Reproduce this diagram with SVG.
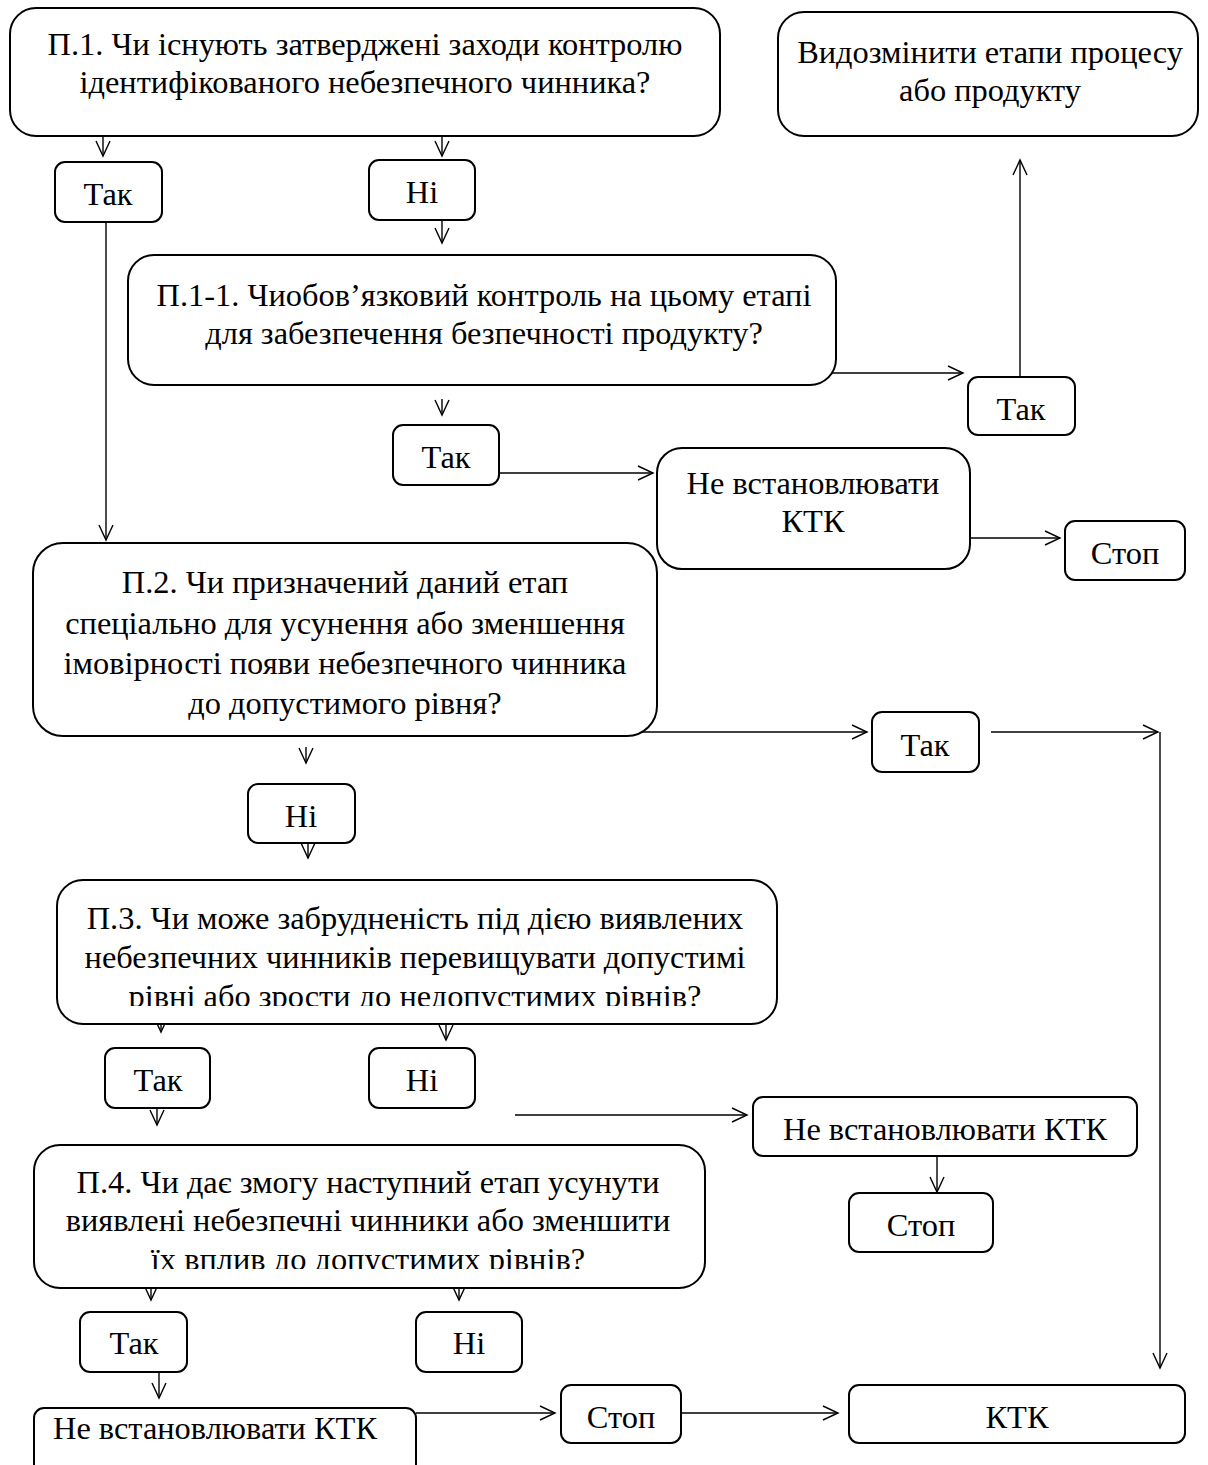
<svg xmlns="http://www.w3.org/2000/svg" width="1208" height="1465" viewBox="0 0 1208 1465">
<style>
.box{fill:#fff;stroke:#000;stroke-width:2}
.t{font-family:"Liberation Serif","Times New Roman",serif;font-size:32.4px;fill:#000;text-anchor:middle}
.c{fill:none;stroke:#000;stroke-width:1.4;marker-end:url(#arr)}
</style>
<defs>
<marker id="arr" markerWidth="18" markerHeight="16" refX="16" refY="8" orient="auto" markerUnits="userSpaceOnUse">
<path d="M1,1 L16,8 L1,15" fill="none" stroke="#000" stroke-width="1.4"/>
</marker>
<clipPath id="clip3"><rect x="0" y="0" width="1208" height="1006"/></clipPath>
<clipPath id="clip4"><rect x="0" y="0" width="1208" height="1269"/></clipPath>
</defs>
<rect width="1208" height="1465" fill="#fff"/>
<g id="connectors">
<path class="c" d="M103,132 V156"/>
<path class="c" d="M442,132 V156"/>
<path class="c" d="M442,220 V243"/>
<path class="c" d="M106,222 V540"/>
<path class="c" d="M825,373 H963"/>
<path class="c" d="M1020,377 V160"/>
<path class="c" d="M442,399 V415"/>
<path class="c" d="M499,473 H653"/>
<path class="c" d="M970,538 H1060"/>
<path class="c" d="M640,732 H867"/>
<path class="c" d="M991,732 H1158"/>
<path class="c" d="M1160,732 V1368"/>
<path class="c" d="M306,747 V763"/>
<path class="c" d="M308,843 V858"/>
<path class="c" d="M161,1010 V1032"/>
<path class="c" d="M446,1010 V1040"/>
<path class="c" d="M157,1100 V1125"/>
<path class="c" d="M515,1115 H747"/>
<path class="c" d="M937,1156 V1192"/>
<path class="c" d="M151,1275 V1300"/>
<path class="c" d="M459,1275 V1300"/>
<path class="c" d="M159,1372 V1398"/>
<path class="c" d="M416,1413 H555"/>
<path class="c" d="M681,1413 H838"/>
</g>
<g id="n_p1"><rect class="box" x="10" y="8" width="710" height="128" rx="26"/>
<text class="t" x="365" y="55">П.1. Чи існують затверджені заходи контролю</text>
<text class="t" x="365" y="93">ідентифікованого небезпечного чинника?</text></g>
<g id="n_modify"><rect class="box" x="778" y="12" width="420" height="124" rx="26"/>
<text class="t" x="990" y="63">Видозмінити етапи процесу</text>
<text class="t" x="990" y="101">або продукту</text></g>
<g id="n_yes1"><rect class="box" x="55" y="162" width="107" height="60" rx="10"/>
<text class="t" x="108" y="205">Так</text></g>
<g id="n_no1"><rect class="box" x="369" y="160" width="106" height="60" rx="10"/>
<text class="t" x="422" y="203">Ні</text></g>
<g id="n_p11"><rect class="box" x="128" y="255" width="708" height="130" rx="26"/>
<text class="t" x="484" y="306">П.1-1. Чиобов’язковий контроль на цьому етапі</text>
<text class="t" x="484" y="344">для забезпечення безпечності продукту?</text></g>
<g id="n_yes2"><rect class="box" x="968" y="377" width="107" height="58" rx="10"/>
<text class="t" x="1021" y="420">Так</text></g>
<g id="n_yes3"><rect class="box" x="393" y="425" width="106" height="60" rx="10"/>
<text class="t" x="446" y="468">Так</text></g>
<g id="n_nokk1"><rect class="box" x="657" y="448" width="313" height="121" rx="25"/>
<text class="t" x="813" y="494">Не встановлювати</text>
<text class="t" x="813" y="532">КТК</text></g>
<g id="n_stop1"><rect class="box" x="1065" y="521" width="120" height="59" rx="10"/>
<text class="t" x="1125" y="564">Стоп</text></g>
<g id="n_p2"><rect class="box" x="33" y="543" width="624" height="193" rx="30"/>
<text class="t" x="345" y="593">П.2. Чи призначений даний етап</text>
<text class="t" x="345" y="634">спеціально для усунення або зменшення</text>
<text class="t" x="345" y="674">імовірності появи небезпечного чинника</text>
<text class="t" x="345" y="714">до допустимого рівня?</text></g>
<g id="n_yes4"><rect class="box" x="872" y="712" width="107" height="60" rx="10"/>
<text class="t" x="925" y="756">Так</text></g>
<g id="n_no2"><rect class="box" x="248" y="784" width="107" height="59" rx="10"/>
<text class="t" x="301" y="827">Ні</text></g>
<g id="n_p3"><rect class="box" x="57" y="880" width="720" height="144" rx="26"/>
<text class="t" x="415" y="929">П.3. Чи може забрудненість під дією виявлених</text>
<text class="t" x="415" y="968">небезпечних чинників перевищувати допустимі</text>
<text class="t" x="415" y="1007" clip-path="url(#clip3)">рівні або зрости до недопустимих рівнів?</text></g>
<g id="n_yes5"><rect class="box" x="105" y="1048" width="105" height="60" rx="10"/>
<text class="t" x="158" y="1091">Так</text></g>
<g id="n_no3"><rect class="box" x="369" y="1048" width="106" height="60" rx="10"/>
<text class="t" x="422" y="1091">Ні</text></g>
<g id="n_nokk2"><rect class="box" x="753" y="1097" width="384" height="59" rx="10"/>
<text class="t" x="945" y="1140">Не встановлювати КТК</text></g>
<g id="n_stop2"><rect class="box" x="849" y="1193" width="144" height="59" rx="10"/>
<text class="t" x="921" y="1236">Стоп</text></g>
<g id="n_p4"><rect class="box" x="34" y="1145" width="671" height="143" rx="26"/>
<text class="t" x="368" y="1193">П.4. Чи дає змогу наступний етап усунути</text>
<text class="t" x="368" y="1231">виявлені небезпечні чинники або зменшити</text>
<text class="t" x="368" y="1270" clip-path="url(#clip4)">їх вплив до допустимих рівнів?</text></g>
<g id="n_yes6"><rect class="box" x="80" y="1312" width="107" height="60" rx="10"/>
<text class="t" x="134" y="1354">Так</text></g>
<g id="n_no4"><rect class="box" x="416" y="1312" width="106" height="60" rx="10"/>
<text class="t" x="469" y="1354">Ні</text></g>
<g id="n_nokk3"><rect class="box" x="34" y="1408" width="382" height="80" rx="10"/>
<text class="t" x="215" y="1439">Не встановлювати КТК</text></g>
<g id="n_stop3"><rect class="box" x="561" y="1385" width="120" height="58" rx="10"/>
<text class="t" x="621" y="1428">Стоп</text></g>
<g id="n_ktk"><rect class="box" x="849" y="1385" width="336" height="58" rx="10"/>
<text class="t" x="1017" y="1428">КТК</text></g>
</svg>
